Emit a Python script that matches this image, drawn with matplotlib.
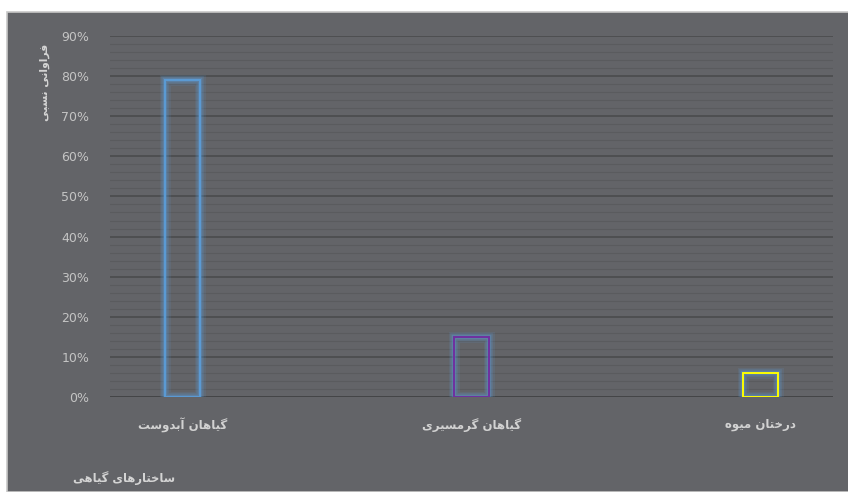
import matplotlib.pyplot as plt
import matplotlib.patheffects as pe
from matplotlib.patches import Rectangle
from matplotlib.ticker import MultipleLocator, PercentFormatter

categories = ['گیاهان آبدوست', 'گیاهان گرمسیری', 'درختان میوه']
values = [0.79, 0.15, 0.06]
edge_colors = ['#5b9bd5', '#7030a0', '#ffff00']
y_title = 'فراوانی نسبی'
x_title = 'ساختارهای گیاهی'

# contextual forms: isolated, final, initial, medial (None = does not join forward)
FORMS = {
    'ا': ('\uFE8D', '\uFE8E', None, None),
    'آ': ('\uFE81', '\uFE82', None, None),
    'ب': ('\uFE8F', '\uFE90', '\uFE91', '\uFE92'),
    'ت': ('\uFE95', '\uFE96', '\uFE97', '\uFE98'),
    'خ': ('\uFEA5', '\uFEA6', '\uFEA7', '\uFEA8'),
    'د': ('\uFEA9', '\uFEAA', None, None),
    'ر': ('\uFEAD', '\uFEAE', None, None),
    'س': ('\uFEB1', '\uFEB2', '\uFEB3', '\uFEB4'),
    'ف': ('\uFED1', '\uFED2', '\uFED3', '\uFED4'),
    'م': ('\uFEE1', '\uFEE2', '\uFEE3', '\uFEE4'),
    'ن': ('\uFEE5', '\uFEE6', '\uFEE7', '\uFEE8'),
    'ه': ('\uFEE9', '\uFEEA', '\uFEEB', '\uFEEC'),
    'و': ('\uFEED', '\uFEEE', None, None),
    'ی': ('\uFBFC', '\uFBFD', '\uFBFE', '\uFBFF'),
    'گ': ('\uFB92', '\uFB93', '\uFB94', '\uFB95'),
}


def fa(text):
    out = []
    for i, ch in enumerate(text):
        if ch not in FORMS:
            out.append(ch)
            continue
        prev = text[i - 1] if i > 0 else ''
        nxt = text[i + 1] if i + 1 < len(text) else ''
        joins_prev = prev in FORMS and FORMS[prev][2] is not None
        joins_next = nxt in FORMS and FORMS[ch][2] is not None
        iso, fin, ini, med = FORMS[ch]
        if joins_prev and joins_next:
            out.append(med)
        elif joins_prev:
            out.append(fin)
        elif joins_next:
            out.append(ini)
        else:
            out.append(iso)
    return ''.join(reversed(out))


plt.rcParams['font.family'] = ['DejaVu Sans']

fig = plt.figure(figsize=(8.48, 4.92), dpi=100)
fig.patch.set_facecolor('white')
fig.patches.append(Rectangle((7 / 848, 0), 1, 1 - 12 / 492, transform=fig.transFigure,
                             facecolor='#636468', edgecolor='#c8c8c8', lw=1.2, zorder=-5))

ax = fig.add_axes([110 / 848, 1 - 397 / 492, 723 / 848, 361 / 492])
ax.set_facecolor('none')
ax.set_zorder(1)

x = list(range(len(categories)))
glow = '#5b9bd5'
for xi, v, c in zip(x, values, edge_colors):
    bar = ax.bar(xi, v, width=0.12, facecolor='none', edgecolor=c, linewidth=1.4, zorder=3)
    for patch in bar:
        patch.set_path_effects([
            pe.Stroke(linewidth=8, foreground=glow, alpha=0.12),
            pe.Stroke(linewidth=5.5, foreground=glow, alpha=0.2),
            pe.Stroke(linewidth=3.2, foreground=glow, alpha=0.35),
            pe.Normal(),
        ])

ax.set_xlim(-0.25, 2.25)
ax.set_ylim(0, 0.9)
ax.yaxis.set_major_locator(MultipleLocator(0.1))
ax.yaxis.set_minor_locator(MultipleLocator(0.02))
ax.yaxis.set_major_formatter(PercentFormatter(1.0, decimals=0))
ax.grid(axis='y', which='major', color='#48494b', linewidth=1.1, zorder=1)
ax.grid(axis='y', which='minor', color='#5a5b5e', linewidth=0.8, zorder=1)
ax.set_axisbelow(True)
for s in ax.spines.values():
    s.set_visible(False)
ax.axhline(0, color='#434446', linewidth=1.3, zorder=2)

ax.tick_params(axis='y', which='both', length=0, pad=15, labelsize=9, labelcolor='#c4c4c4')
ax.set_xticks(x)
ax.set_xticklabels([fa(c) for c in categories], fontsize=8.5, fontweight='bold', color='#d2d2d2')
ax.tick_params(axis='x', length=0, pad=15)

fig.text(45 / 848, 1 - 82 / 492, fa(y_title), rotation=90, ha='center', va='center',
         fontsize=7.8, fontweight='bold', color='#d4d4d4')
fig.text(73 / 848, 1 - 478 / 492, fa(x_title), ha='left', va='center',
         fontsize=8.3, fontweight='bold', color='#d4d4d4')

fig.savefig('out.png', dpi=100)
